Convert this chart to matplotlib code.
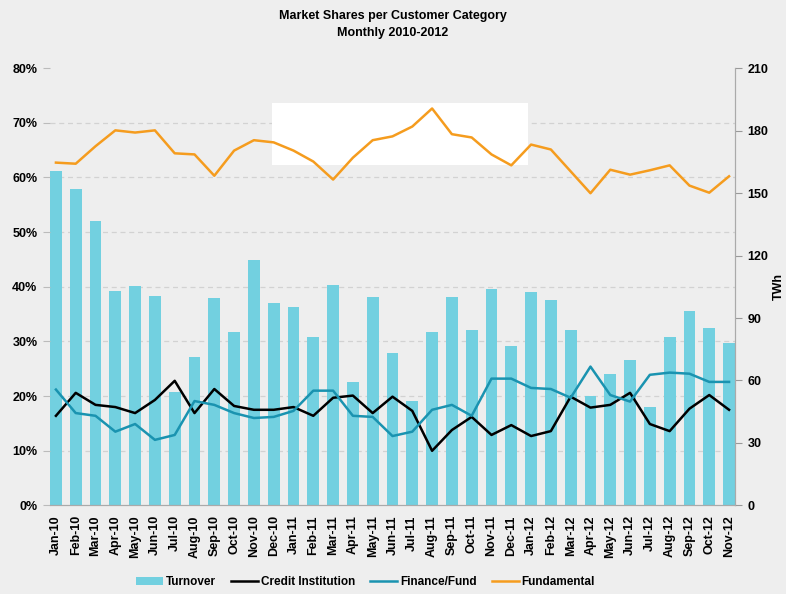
import numpy as np
import matplotlib.pyplot as plt
from matplotlib.patches import Rectangle
from matplotlib.ticker import MultipleLocator, FuncFormatter

plt.rcParams['font.family'] = ['Liberation Sans', 'DejaVu Sans']
plt.rcParams['font.weight'] = 'bold'

months = ['Jan-10', 'Feb-10', 'Mar-10', 'Apr-10', 'May-10', 'Jun-10', 'Jul-10', 'Aug-10',
          'Sep-10', 'Oct-10', 'Nov-10', 'Dec-10', 'Jan-11', 'Feb-11', 'Mar-11', 'Apr-11',
          'May-11', 'Jun-11', 'Jul-11', 'Aug-11', 'Sep-11', 'Oct-11', 'Nov-11', 'Dec-11',
          'Jan-12', 'Feb-12', 'Mar-12', 'Apr-12', 'May-12', 'Jun-12', 'Jul-12', 'Aug-12',
          'Sep-12', 'Oct-12', 'Nov-12']

# turnover in TWh (right axis)
turnover = [160.5, 151.9, 136.5, 102.8, 105.2, 100.4, 54.3, 71.1, 99.5, 83.1, 117.7, 97.1,
            95.1, 80.7, 105.7, 59.1, 100.0, 73.0, 50.0, 83.1, 100.0, 84.1, 103.8, 76.4,
            102.4, 98.5, 84.1, 52.4, 63.0, 69.7, 47.1, 80.7, 93.2, 85.0, 77.8]

# market shares in % (left axis)
credit = [16.4, 20.6, 18.4, 18.0, 16.9, 19.3, 22.8, 16.9, 21.3, 18.2, 17.5, 17.5,
          18.0, 16.4, 19.7, 20.1, 16.9, 19.9, 17.3, 10.0, 13.8, 16.2, 12.9, 14.7,
          12.7, 13.6, 19.9, 17.9, 18.4, 20.6, 14.9, 13.6, 17.7, 20.2, 17.5]
finance = [21.2, 16.9, 16.4, 13.5, 14.9, 12.0, 12.9, 19.1, 18.4, 16.9, 16.0, 16.2,
           17.3, 21.0, 21.0, 16.4, 16.2, 12.7, 13.5, 17.5, 18.4, 16.4, 23.2, 23.2,
           21.5, 21.3, 19.7, 25.4, 20.2, 19.0, 23.9, 24.3, 24.1, 22.6, 22.6]
fundamental = [62.7, 62.5, 65.7, 68.6, 68.2, 68.6, 64.4, 64.2, 60.3, 64.9, 66.8, 66.4,
               64.9, 62.9, 59.6, 63.6, 66.8, 67.5, 69.3, 72.6, 67.9, 67.3, 64.2, 62.2,
               66.0, 65.1, 61.1, 57.1, 61.4, 60.5, 61.3, 62.2, 58.5, 57.2, 60.2]

x = np.arange(len(months))

fig = plt.figure(figsize=(7.86, 5.94), dpi=100, facecolor='#eeeeee')
ax2 = fig.add_axes([0.0636, 0.149, 0.8715, 0.7365])
ax = ax2.twinx()
ax.yaxis.tick_left()
ax.yaxis.set_label_position('left')
ax2.yaxis.tick_right()
ax2.yaxis.set_label_position('right')

ax2.set_zorder(1)
ax.set_zorder(2)
ax.patch.set_visible(False)
ax2.patch.set_visible(False)

# bars
ax2.bar(x, turnover, width=0.6, color='#72d0e0', zorder=2, label='Turnover')
ax2.set_ylim(0, 210)
ax2.yaxis.set_major_locator(MultipleLocator(30))
ax2.yaxis.set_minor_locator(MultipleLocator(26.25))
ax2.grid(which='minor', axis='y', ls=(0, (4, 3)), color='#d2d2d2', lw=0.9)
ax2.set_axisbelow(True)
ax2.tick_params(axis='y', which='minor', length=0)
ax2.tick_params(axis='y', which='major', length=5, color='#999999', labelsize=9, pad=4)
ax2.set_ylabel('TWh', fontsize=9, fontweight='bold', labelpad=3)
ax2.add_patch(Rectangle((0.324, 0.778), 0.374, 0.142, transform=ax2.transAxes,
                        facecolor='white', edgecolor='none', zorder=1.5))

# lines
ax.plot(x, credit, color='black', lw=1.8, label='Credit Institution')
ax.plot(x, finance, color='#1a93b0', lw=1.8, label='Finance/Fund')
ax.plot(x, fundamental, color='#f59c1e', lw=1.8, label='Fundamental')
ax.set_ylim(0, 80)
ax.yaxis.set_major_locator(MultipleLocator(10))
ax.yaxis.set_major_formatter(FuncFormatter(lambda v, p: f'{v:.0f}%'))
ax.tick_params(axis='y', length=5, color='#bbbbbb', labelsize=9, pad=4)

ax2.set_xlim(-0.3, 34.3)
ax2.set_xticks(x)
ax2.set_xticklabels(months, rotation=90, fontsize=9)
ax2.tick_params(axis='x', length=0, pad=7)
ax.tick_params(axis='x', length=0)

for a in (ax, ax2):
    a.spines['top'].set_visible(False)
    a.spines['left'].set_visible(False)
    a.spines['bottom'].set_color('#aaaaaa')
    a.spines['right'].set_color('#aaaaaa')

fig.suptitle('Market Shares per Customer Category\nMonthly 2010-2012', x=0.5, y=0.983,
             fontsize=9, fontweight='bold', linespacing=1.6)

h1, l1 = ax2.get_legend_handles_labels()
h2, l2 = ax.get_legend_handles_labels()
fig.legend(h1 + h2, l1 + l2, loc='lower center', bbox_to_anchor=(0.465, -0.008), ncol=4,
           frameon=False, fontsize=8.5, handlelength=2.3, columnspacing=1.3, handletextpad=0.2)

fig.savefig('out.png', dpi=100, facecolor=fig.get_facecolor())
